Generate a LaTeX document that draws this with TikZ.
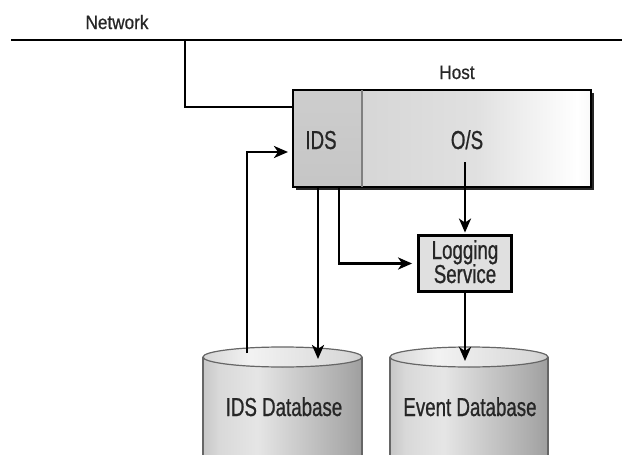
\documentclass[tikz,border=0pt]{standalone}
\usepackage{fontspec}
\setmainfont{Liberation Sans}
\newfontfamily\bigf{Liberation Sans}[FakeStretch=0.72,FakeBold=0.8]
\newfontfamily\smf{Liberation Sans}[FakeStretch=0.88,FakeBold=0.6]
\usetikzlibrary{arrows.meta}
\pgfdeclarehorizontalshading{cylbody}{100bp}{color(0bp)=(black!58); color(30bp)=(black!15); color(42bp)=(black!10); color(70bp)=(black!33); color(100bp)=(black!62)}
\pgfdeclarehorizontalshading{cyltop}{100bp}{color(0bp)=(black!35); color(40bp)=(black!5); color(70bp)=(black!15); color(100bp)=(black!40)}
\pgfdeclarehorizontalshading{osfill}{100bp}{color(0bp)=(black!20); color(50bp)=(black!12); color(72bp)=(white); color(85bp)=(black!10); color(100bp)=(black!25)}
\pgfdeclareverticalshading{idsfill}{100bp}{color(0bp)=(black!24); color(100bp)=(black!18)}
\begin{document}
\begin{tikzpicture}[x=1pt,y=-1pt,
  conn/.style={line width=2.6pt,black},
  arr/.style={conn,-{Stealth[length=14pt,width=12pt,inset=4pt]}},
  bigtxt/.style={font=\bigf\fontsize{26}{25}\selectfont, text=black!85, inner sep=0, anchor=base},
  smalltxt/.style={font=\smf\fontsize{19.5}{22}\selectfont, text=black!85, inner sep=0, anchor=base},
  cylside/.style={draw=black!60, line width=1.2pt}]
\useasboundingbox (0,0) rectangle (622,455);
\fill[white] (0,0) rectangle (622,455);

% labels
\node[smalltxt] (netlbl) at (117,29) {Network};
\node[smalltxt] (hostlbl) at (457,79) {Host};

% network line and tap
\coordinate (nl) at (11,40);
\coordinate (nr) at (622,40);
\coordinate (tap) at (185,40);
\draw[conn] (nl) -- (nr);

% host box
\fill[black!85] (296,93) rectangle (594,190);
\node[inner sep=0, minimum width=69pt, minimum height=97pt, shading=idsfill] (idsbox) at (327.5,138.5) {};
\node[inner sep=0, minimum width=229pt, minimum height=97pt, shading=osfill] (osbox) at (476.5,138.5) {};
\draw[line width=2.4pt] (idsbox.north west) rectangle (osbox.south east);
\draw[black!50, line width=1.5pt] (idsbox.north east) -- (idsbox.south east);
\node[bigtxt] (idslbl) at (321,149) {IDS};
\node[bigtxt] (oslbl) at (467,149) {O/S};
\coordinate (hostin) at (293,107);
\draw[conn] (tap) |- (hostin);

% logging box
\node[draw=black, line width=2.8pt, fill=black!12, inner sep=0, minimum width=93pt, minimum height=56pt] (logbox) at (465,263.5) {};
\node[bigtxt] (loglbl1) at (465,259) {Logging};
\node[bigtxt] (loglbl2) at (465,283) {Service};

% databases
\fill[shading=cylbody] (203,357) rectangle (362,456);
\draw[cylside] (203,357) -- (203,456) (362,357) -- (362,456);
\fill[shading=cyltop] (282.5,357) ellipse [x radius=79.5, y radius=10];
\draw[cylside] (282.5,357) ellipse [x radius=79.5, y radius=10];
\node[bigtxt] (idsdblbl) at (284,416) {IDS Database};

\fill[shading=cylbody] (390,357) rectangle (548,456);
\draw[cylside] (390,357) -- (390,456) (548,357) -- (548,456);
\fill[shading=cyltop] (469,357) ellipse [x radius=79, y radius=10];
\draw[cylside] (469,357) ellipse [x radius=79, y radius=10];
\node[bigtxt] (evdblbl) at (470,416) {Event Database};

% connectors
\coordinate (idsdbout) at (247,353);
\coordinate (idsin) at (288,152);
\draw[arr] (idsdbout) |- (idsin);

\coordinate (idsout1) at (318,188);
\coordinate (idsdbin) at (318,359);
\draw[arr] (idsout1) -- (idsdbin);

\coordinate (idsout2) at (339,188);
\draw[arr, shorten >=5pt] (idsout2) |- (logbox.west);

\coordinate (osout) at (465,162);
\draw[arr, shorten >=1.5pt] (osout) -- (logbox.north);

\coordinate (evdbin) at (465,361);
\draw[arr] (logbox.south) -- (evdbin);
\end{tikzpicture}
\end{document}
